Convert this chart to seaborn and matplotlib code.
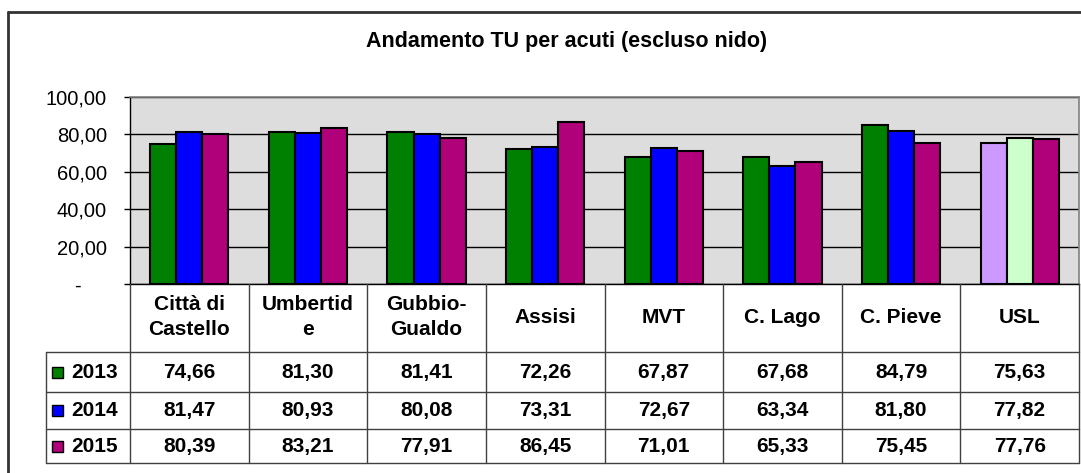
import numpy as np
import pandas as pd
import matplotlib
matplotlib.use("Agg")
import matplotlib.pyplot as plt
import seaborn as sns
from matplotlib.lines import Line2D
from matplotlib.patches import Rectangle

# ---- data ----
categories = ["Città di\nCastello", "Umbertid\ne", "Gubbio-\nGualdo", "Assisi",
              "MVT", "C. Lago", "C. Pieve", "USL"]
years = ["2013", "2014", "2015"]
v2013 = [74.66, 81.30, 81.41, 72.26, 67.87, 67.68, 84.79, 75.63]
v2014 = [81.47, 80.93, 80.08, 73.31, 72.67, 63.34, 81.80, 77.82]
v2015 = [80.39, 83.21, 77.91, 86.45, 71.01, 65.33, 75.45, 77.76]
title = "Andamento TU per acuti (escluso nido)"
yticks = [0, 20, 40, 60, 80, 100]

series = {"2013": v2013, "2014": v2014, "2015": v2015}
colors = {"2013": "#008000", "2014": "#0000FF", "2015": "#B0007A"}
usl_colors = {"2013": "#CC99FF", "2014": "#CCFFCC", "2015": "#B0007A"}

df = pd.DataFrame([
    {"cat": c, "year": y, "val": v}
    for y in years for c, v in zip(categories, series[y])
])

sns.set_theme(style="white")
plt.rcParams["font.family"] = ["Liberation Sans", "DejaVu Sans"]

W, H = 1081, 473
fig = plt.figure(figsize=(W / 100, H / 100), dpi=100)
fig.patch.set_facecolor("white")

def fx(x):
    return x / W

def fy(y):
    return 1 - y / H

# plot area
L, R, T, B = 130, 1079, 97, 284
ax = fig.add_axes([fx(L), fy(B), (R - L) / W, (B - T) / H])
ax.set_facecolor("#DDDDDD")

sns.barplot(data=df, x="cat", y="val", hue="year", order=categories,
            hue_order=years, palette=[colors[y] for y in years],
            saturation=1, width=0.66, gap=0, edgecolor="black", linewidth=1.5,
            legend=False, ax=ax, errorbar=None)

# USL bars use a different colour for 2013/2014
for i, y in enumerate(years):
    ax.containers[i][len(categories) - 1].set_facecolor(usl_colors[y])

ax.set_ylim(0, 100)
ax.set_xlim(-0.5, len(categories) - 0.5)
ax.set_yticks(yticks)
ax.set_yticklabels(["-" if t == 0 else f"{t:.2f}".replace(".", ",") for t in yticks],
                   fontsize=14.5)
ax.set_xticks([])
ax.set_xlabel("")
ax.set_ylabel("")
ax.set_axisbelow(True)
ax.yaxis.grid(True, color="black", linewidth=1)
ax.tick_params(axis="y", direction="out", length=4.5, width=1, color="black",
               pad=12, left=True, colors="black")
# shift the "-" label left like the accounting format
lab0 = ax.get_yticklabels()[0]
import matplotlib.transforms as mtrans
lab0.set_transform(lab0.get_transform() + mtrans.ScaledTranslation(-26 / 100, 0, fig.dpi_scale_trans))
for s in ["top", "right"]:
    ax.spines[s].set_color("#808080")
    ax.spines[s].set_linewidth(1.2)
for s in ["left", "bottom"]:
    ax.spines[s].set_color("black")
    ax.spines[s].set_linewidth(1)

# title
fig.text(fx(567), fy(41), title, ha="center", va="center",
         fontsize=15.5, fontweight="bold", color="black")

# outer frame (top & left)
fc = "#333333"
fig.add_artist(Line2D([fx(8), fx(W)], [fy(12), fy(12)], color=fc, lw=2))
fig.add_artist(Line2D([fx(8), fx(8)], [fy(12), fy(H)], color=fc, lw=2))

# data table
tc = "#404040"
n = len(categories)
colw = (R - L) / n
rows_y = [352, 392, 429, 463]
TL = 46

def hline(x0, x1, y):
    fig.add_artist(Line2D([fx(x0), fx(x1)], [fy(y), fy(y)], color=tc, lw=1))

def vline(x, y0, y1):
    fig.add_artist(Line2D([fx(x), fx(x)], [fy(y0), fy(y1)], color=tc, lw=1))

for y in rows_y:
    hline(TL, R, y)
vline(TL, rows_y[0], rows_y[-1])
for k in range(n + 1):
    vline(L + k * colw, B, rows_y[-1])

tfs = 15
for k, c in enumerate(categories):
    fig.text(fx(L + (k + 0.5) * colw), fy(317), c, ha="center", va="center",
             fontsize=tfs, fontweight="bold", linespacing=1.45, color="black")

for r, y in enumerate(years):
    yc = (rows_y[r] + rows_y[r + 1]) / 2
    fig.add_artist(Rectangle((fx(52), fy(yc + 5.5)), 11 / W, 11 / H,
                             transform=fig.transFigure, facecolor=colors[y],
                             edgecolor="black", lw=1))
    fig.text(fx(71), fy(yc), y, ha="left", va="center", fontsize=tfs,
             fontweight="bold", color="black")
    for k, v in enumerate(series[y]):
        fig.text(fx(L + (k + 0.5) * colw), fy(yc), f"{v:.2f}".replace(".", ","),
                 ha="center", va="center", fontsize=tfs, fontweight="bold",
                 color="black")

fig.savefig("out.png", dpi=100)
